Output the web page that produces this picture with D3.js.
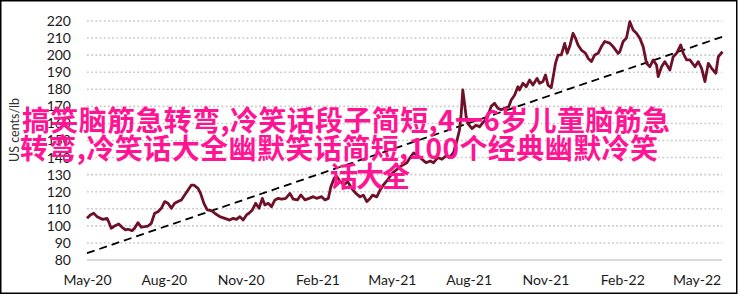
<!DOCTYPE html>
<html>
<head>
<meta charset="utf-8">
<script src="https://cdn.jsdelivr.net/npm/d3@7/dist/d3.min.js"></script>
<style>
  html, body { margin: 0; padding: 0; background: #fff; }
  svg { display: block; }
</style>
</head>
<body>
<svg id="chart" width="739" height="295"></svg>
<script>
// ---------- data ----------
const START_DATE = "2020-05-01";
const END_DATE = "2022-06-01";
// days after START_DATE for each observation
const dayOffsets = [0,4,8,12,16,19,24,26,29,33,38,42,46,49,54,57,61,65,69,73,77,81,85,89,93,97,101,105,109,113,117,121,125,128,133,136,140,144,149,153,159,165,171,175,179,183,187,191,194,198,202,206,210,213,217,221,225,229,233,238,243,247,252,256,261,266,271,275,281,285,289,292,296,299,303,308,312,317,322,327,331,335,339,342,347,351,355,360,366,371,376,383,387,391,396,401,406,411,415,420,425,430,434,439,443,446,448,450,452,454,456,461,466,470,475,479,484,488,492,496,500,505,508,512,516,518,522,526,530,534,539,542,546,549,552,556,559,561,564,568,572,575,578,582,585,588,592,597,600,604,608,612,616,620,626,630,636,638,642,646,650,654,658,662,666,670,674,678,682,684,688,692,698,702,706,711,714,718,722,728,732,736,740,744,748,753,756,761];
// price, US cents/lb
const prices = [104.4,106.4,107.4,105.4,104.4,103.8,104.4,102.4,98.6,99.9,101.1,99.2,97.6,98,97.2,98.6,101.9,99.2,99.5,99.9,101.5,107.4,108.3,110.3,114.2,113.2,110.3,113.2,114.2,115.2,118.1,121,123.9,123.9,122,119,113.2,109.3,108.9,107.4,105.4,104.4,103.4,104.4,103.8,105.4,103.4,106.4,107.4,109.3,113.2,110.3,116.1,112.2,113.2,111.2,115.2,116.1,115.6,116.1,119,115.6,115.2,118.1,115.2,116.1,117.1,116.1,117.1,115.2,116.1,122.9,127.9,129,126,124,126,122,119,117,118,114.2,116,118,117,121,124,127,131,133,135,137,140,142.7,141,139,137,138,137,140,139,141,140,143,150,156,165,179.6,172,164,160,157,159,158,161,163,170,171.8,168.9,168,168.9,169.8,173.7,176.5,181.5,179.6,183.5,181.5,185.4,182.5,186.4,183.5,184.5,188.4,182.5,181,189.4,195.2,200,200.1,206.9,201.1,205,212.8,209.9,206,203,201.1,198.2,196.2,200.1,201.1,205,208,207,205,201,202,208,210,219.6,214.7,212.8,209.9,205,195.2,193.2,197.2,194.2,187.4,193.2,196.2,191.3,199.1,201.1,206,201.1,197.2,197.2,193.2,196.2,192.3,184.5,195.2,192.3,189.4,199.1,202];
// dashed trend line: value at start and at end of the period
const trendValues = [84, 210.8];
const yTicks = [80,90,100,110,120,130,140,150,160,170,180,190,200,210,220];
const xTickLabels = ["May-20","Aug-20","Nov-20","Feb-21","May-21","Aug-21","Nov-21","Feb-22","May-22"];
const yAxisTitle = "US cents/lb";
const overlayLines = ["搞笑脑筋急转弯,冷笑话段子简短,4一6岁儿童脑筋急",
                      "转弯,冷笑话大全幽默笑话简短,100个经典幽默冷笑",
                      "话大全"];

// ---------- scales ----------
const parseDay = d3.timeParse("%Y-%m-%d");
const parseTick = d3.timeParse("%b-%y");
const start = parseDay(START_DATE), end = parseDay(END_DATE);
const series = dayOffsets.map((d, i) => ({ date: d3.timeDay.offset(start, d), value: prices[i] }));

const x = d3.scaleTime().domain([start, end]).range([87, 722.5]);
const y = d3.scaleLinear().domain([80, 220]).range([260, 21]);

const svg = d3.select("#chart");
const FONT = "Lato, 'Open Sans', sans-serif";

// border
svg.append("rect").attr("x", 0.75).attr("y", 0.75).attr("width", 736).attr("height", 292.5)
  .attr("fill", "none").attr("stroke", "#000").attr("stroke-width", 1.5);

// gridlines
svg.append("g").selectAll("line").data(yTicks.filter(t => t !== 80)).join("line")
  .attr("x1", 87).attr("x2", 722).attr("y1", d => y(d)).attr("y2", d => y(d))
  .attr("stroke", "#c9c9c9").attr("stroke-width", 1.6).attr("stroke-dasharray", "1.8,2.4");

// bottom axis line
svg.append("line").attr("x1", 87).attr("x2", 722).attr("y1", y(80)).attr("y2", y(80))
  .attr("stroke", "#d9d9d9").attr("stroke-width", 2);

// y axis
const yAxis = d3.axisLeft(y).tickValues(yTicks).tickSize(0).tickPadding(0);
const gy = svg.append("g").attr("transform", "translate(71,0)").call(yAxis);
gy.select(".domain").remove();
gy.selectAll("text").attr("font-family", FONT).attr("font-size", 14).attr("fill", "#1a1a1a");

// x axis
const xAxis = d3.axisBottom(x).tickValues(xTickLabels.map(parseTick))
  .tickFormat(d3.timeFormat("%b-%y")).tickSize(0).tickPadding(0);
const gx = svg.append("g").attr("transform", "translate(0,275)").call(xAxis);
gx.select(".domain").remove();
gx.selectAll("text").attr("font-family", FONT).attr("font-size", 14).attr("fill", "#1a1a1a");

// y title
svg.append("text").attr("transform", "translate(19,130) rotate(-90)")
  .attr("text-anchor", "middle").attr("font-family", FONT).attr("font-size", 12.5)
  .attr("fill", "#333").text(yAxisTitle);

// trend line
svg.append("line")
  .attr("x1", x(start)).attr("y1", y(trendValues[0]))
  .attr("x2", x(end)).attr("y2", y(trendValues[1]))
  .attr("stroke", "#000").attr("stroke-width", 1.8).attr("stroke-dasharray", "8,5");

// price line
svg.append("path").datum(series)
  .attr("fill", "none").attr("stroke", "#6e1028").attr("stroke-width", 2.8)
  .attr("stroke-linejoin", "round")
  .attr("d", d3.line().x(d => x(d.date)).y(d => y(d.value)));

// overlay text
const overlayPos = [{x: 22, y: 131, w: 648}, {x: 20, y: 159, w: 638}, {x: 330, y: 187, w: 80}];
svg.append("g").selectAll("text").data(overlayLines).join("text")
  .attr("x", (d, i) => overlayPos[i].x).attr("y", (d, i) => overlayPos[i].y)
  .attr("textLength", (d, i) => overlayPos[i].w).attr("lengthAdjust", "spacing")
  .attr("font-family", "'Noto Sans CJK SC', sans-serif").attr("font-size", 28)
  .attr("font-weight", 700).attr("fill", "#ff1493").text(d => d);
</script>
</body>
</html>
